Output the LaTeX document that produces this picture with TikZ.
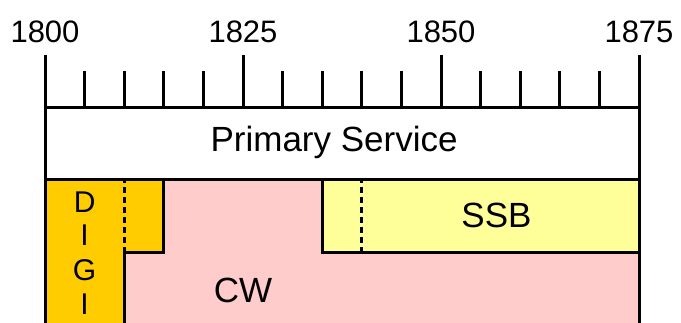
\documentclass[tikz,border=0pt]{standalone}
\usepackage{fontspec}
\setmainfont{Liberation Sans}
\usepackage{xcolor}
\definecolor{digiorange}{HTML}{FFCC00}
\definecolor{cwpink}{HTML}{FFCCCC}
\definecolor{ssbyellow}{HTML}{FFFF99}
\begin{document}
\begin{tikzpicture}[x=7.92pt,y=1pt,line width=3pt,
  yearlab/.style={anchor=base,font=\fontsize{31}{31}\selectfont},
  bandlab/.style={font=\fontsize{35}{35}\selectfont},
  digilab/.style={font=\fontsize{30}{30}\selectfont}]
  \useasboundingbox (-5.682,0) rectangle (80.303,323);
  \clip (-5.682,0) rectangle (80.303,323);
  % bands
  \path[fill=digiorange] (0,-5) rectangle (10,143);
  \path[fill=digiorange] (10,70) rectangle (15,143);
  \path[fill=cwpink] (10,-5) -- (10,70) -- (15,70) -- (15,143) -- (35,143) -- (35,70) -- (75,70) -- (75,-5) -- cycle;
  \path[fill=ssbyellow] (35,70) rectangle (75,143);
  % scale
  \draw (0,215) -- (75,215);
  \foreach \t in {5,10,15,20,30,35,40,45,55,60,65,70}
    \draw (\t,215) -- (\t,252);
  \draw (25,215) -- (25,268);
  \draw (50,215) -- (50,268);
  \node[yearlab] (y1800) at (0,280) {1800};
  \node[yearlab] (y1825) at (25,280) {1825};
  \node[yearlab] (y1850) at (50,280) {1850};
  \node[yearlab] (y1875) at (75,280) {1875};
  % frame
  \draw (0,268) -- (0,-5);
  \draw (75,268) -- (75,-5);
  \draw (0,143) -- (75,143);
  \draw (10,-5) -- (10,70) -- (15,70) -- (15,143);
  \draw (35,143) -- (35,70) -- (75,70);
  \draw[dash pattern=on 6pt off 4pt] (10,70) -- (10,143);
  \draw[dash pattern=on 6pt off 4pt] (40,70) -- (40,143);
  % labels
  \node[bandlab] (primary) at (36.5,181) {Primary Service};
  \node[bandlab] (ssb) at (57,108) {SSB};
  \node[bandlab] (cw) at (25,33) {CW};
  \node[digilab] (d) at (5,121) {D};
  \node[digilab] (i1) at (5,88) {I};
  \node[digilab] (g) at (5,53) {G};
  \node[digilab] (i2) at (5,19) {I};
\end{tikzpicture}
\end{document}
